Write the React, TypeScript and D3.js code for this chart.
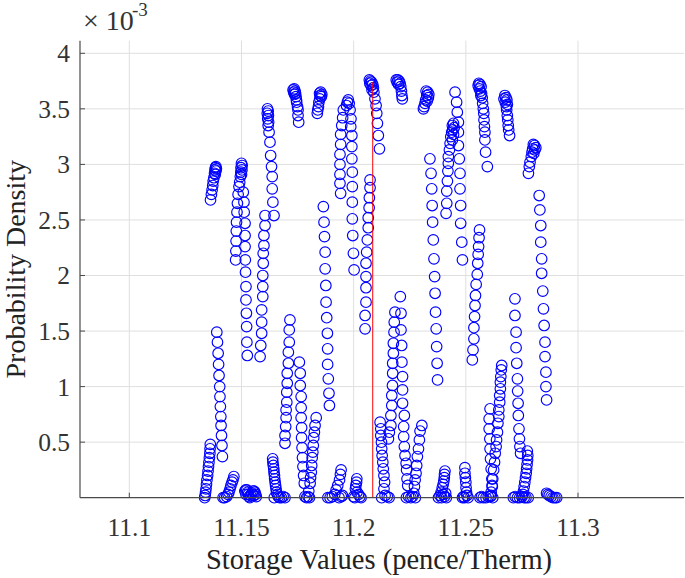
import React from "react";
import * as d3 from "d3";

type Pt = [number, number];

// x: storage value (pence/therm), y: probability density in units of 1e-3
const xTicks = [11.1, 11.15, 11.2, 11.25, 11.3];
const xTickLabels = ["11.1", "11.15", "11.2", "11.25", "11.3"];
const yTicks = [0.5, 1, 1.5, 2, 2.5, 3, 3.5, 4];
const yTickLabels = ["0.5", "1", "1.5", "2", "2.5", "3", "3.5", "4"];
const meanValue = 11.2085;
const meanDensity = 3.74;

const s01: Pt[] = [[11.1361,0.48],[11.1360,0.44],[11.1359,0.40],[11.1357,0.36],[11.1355,0.32],[11.1353,0.28],[11.1351,0.24],[11.1349,0.20],[11.1346,0.16],[11.1344,0.12],[11.1342,0.08],[11.1340,0.05],[11.1338,0.02],[11.1336,0.0]];
const s02: Pt[] = [[11.1386,2.98],[11.1384,2.97],[11.1388,2.96],[11.1382,2.95],[11.1386,2.94],[11.1380,2.92],[11.1383,2.91],[11.1377,2.88],[11.1374,2.85],[11.1372,2.81],[11.1369,2.77],[11.1366,2.73],[11.1362,2.68]];
const s03: Pt[] = [[11.1390,1.49],[11.1393,1.40],[11.1396,1.30],[11.1398,1.20],[11.1400,1.10],[11.1403,1.00],[11.1404,0.91],[11.1406,0.82],[11.1408,0.73],[11.1409,0.65],[11.1411,0.56],[11.1413,0.47],[11.1415,0.37]];
const s04: Pt[] = [[11.1466,0.19],[11.1462,0.16],[11.1458,0.14],[11.1453,0.11],[11.1449,0.08],[11.1444,0.05],[11.1440,0.03],[11.1434,0.01],[11.1425,0.0],[11.1418,0.0]];
const s05: Pt[] = [[11.1515,0.06],[11.1519,0.07],[11.1524,0.07],[11.1528,0.05],[11.1531,0.03],[11.1534,0.01],[11.1537,0.0],[11.1541,0.02],[11.1546,0.04],[11.1551,0.06],[11.1556,0.06],[11.1560,0.05],[11.1563,0.03],[11.1566,0.01],[11.1520,0.03],[11.1555,0.02]];
const s06: Pt[] = [[11.1500,3.01],[11.1503,2.99],[11.1498,2.97],[11.1502,2.95],[11.1497,2.93],[11.1500,2.91],[11.1495,2.89],[11.1492,2.84],[11.1489,2.80],[11.1485,2.73],[11.1482,2.65],[11.1480,2.57],[11.1478,2.48],[11.1477,2.40],[11.1476,2.31],[11.1475,2.22],[11.1474,2.14]];
const s07: Pt[] = [[11.1508,2.75],[11.1511,2.66],[11.1512,2.57],[11.1516,2.47],[11.1516,2.36],[11.1516,2.26],[11.1517,2.14],[11.1518,2.03],[11.1520,1.90],[11.1520,1.78],[11.1522,1.66],[11.1523,1.54],[11.1524,1.40],[11.1526,1.28]];
const s08: Pt[] = [[11.1616,3.50],[11.1619,3.48],[11.1615,3.46],[11.1620,3.44],[11.1617,3.41],[11.1621,3.38],[11.1619,3.35],[11.1623,3.29],[11.1627,3.20],[11.1630,3.08],[11.1634,2.98],[11.1637,2.89],[11.1637,2.78],[11.1640,2.66],[11.1645,2.54]];
const s09: Pt[] = [[11.1605,2.54],[11.1605,2.45],[11.1600,2.36],[11.1600,2.27],[11.1597,2.20],[11.1597,2.11],[11.1595,2.00],[11.1595,1.90],[11.1595,1.81],[11.1590,1.69],[11.1590,1.58],[11.1590,1.48],[11.1586,1.37],[11.1583,1.27]];
const s10: Pt[] = [[11.1639,0.35],[11.1640,0.32],[11.1642,0.29],[11.1644,0.26],[11.1645,0.23],[11.1647,0.20],[11.1648,0.17],[11.1650,0.14],[11.1652,0.11],[11.1654,0.08],[11.1656,0.05],[11.1660,0.03],[11.1664,0.01],[11.1670,0.0],[11.1646,0.0],[11.1678,0.0],[11.1686,0.01],[11.1694,0.0]];
const s11: Pt[] = [[11.1735,3.68],[11.1730,3.67],[11.1739,3.66],[11.1733,3.65],[11.1741,3.64],[11.1737,3.63],[11.1743,3.61],[11.1745,3.58],[11.1746,3.56],[11.1750,3.52],[11.1752,3.49],[11.1752,3.44],[11.1755,3.38]];
const s12: Pt[] = [[11.1716,1.60],[11.1713,1.51],[11.1713,1.40],[11.1709,1.31],[11.1709,1.21],[11.1704,1.12],[11.1704,1.03],[11.1702,0.95],[11.1702,0.86],[11.1699,0.79],[11.1699,0.72],[11.1697,0.64],[11.1694,0.56],[11.1694,0.49]];
const s13: Pt[] = [[11.1758,1.22],[11.1762,1.12],[11.1762,1.01],[11.1766,0.91],[11.1766,0.81],[11.1766,0.72],[11.1768,0.63],[11.1768,0.54],[11.1770,0.45],[11.1772,0.36],[11.1774,0.28],[11.1777,0.20],[11.1780,0.13]];
const s14: Pt[] = [[11.1833,0.72],[11.1828,0.65],[11.1825,0.59],[11.1822,0.54],[11.1820,0.47],[11.1818,0.41],[11.1815,0.36],[11.1813,0.29],[11.1811,0.23],[11.1808,0.18],[11.1806,0.13],[11.1800,0.06],[11.1797,0.01],[11.1790,0.0],[11.1783,0.01],[11.1803,0.0]];
const s15: Pt[] = [[11.1853,3.65],[11.1848,3.64],[11.1858,3.63],[11.1851,3.62],[11.1856,3.61],[11.1849,3.59],[11.1845,3.56],[11.1843,3.52],[11.1840,3.49],[11.1838,3.46]];
const s16: Pt[] = [[11.1865,2.62],[11.1868,2.48],[11.1870,2.35],[11.1873,2.21],[11.1873,2.06],[11.1876,1.91],[11.1877,1.76],[11.1880,1.62],[11.1883,1.48],[11.1884,1.34],[11.1884,1.20],[11.1887,1.07],[11.1890,0.94],[11.1892,0.83]];
const s17: Pt[] = [[11.1944,0.25],[11.1941,0.21],[11.1937,0.16],[11.1929,0.11],[11.1922,0.07],[11.1916,0.03],[11.1905,0.01],[11.1895,0.0],[11.1885,0.0],[11.1935,0.0],[11.1945,0.01],[11.1950,0.02]];
const s18: Pt[] = [[11.1954,3.49],[11.1951,3.42],[11.1947,3.35],[11.1942,3.27],[11.1942,3.18],[11.1939,3.09],[11.1939,3.00],[11.1939,2.91],[11.1939,2.83],[11.1942,2.74]];
const s19: Pt[] = [[11.1976,3.58],[11.1972,3.56],[11.1980,3.55],[11.1968,3.53],[11.1984,3.49],[11.1988,3.41],[11.1987,3.34],[11.1992,3.26],[11.1992,3.16],[11.1992,3.05],[11.1994,2.93],[11.1994,2.80],[11.1994,2.66],[11.1994,2.51],[11.1996,2.36],[11.1999,2.20],[11.2002,2.05]];
const s20: Pt[] = [[11.2014,0.17],[11.2013,0.14],[11.2010,0.11],[11.2008,0.08],[11.2015,0.05],[11.2022,0.03],[11.2028,0.01],[11.2033,0.0],[11.2005,0.0],[11.2000,0.01]];
const s21: Pt[] = [[11.2073,2.86],[11.2073,2.79],[11.2070,2.70],[11.2069,2.61],[11.2065,2.52],[11.2065,2.43],[11.2061,2.32],[11.2058,2.21],[11.2055,2.11],[11.2055,1.99],[11.2055,1.89],[11.2055,1.76],[11.2051,1.64],[11.2051,1.52]];
const s22: Pt[] = [[11.2070,3.76],[11.2075,3.75],[11.2080,3.74],[11.2072,3.73],[11.2085,3.72],[11.2078,3.71],[11.2088,3.69],[11.2082,3.67],[11.2090,3.65],[11.2095,3.59],[11.2100,3.53],[11.2103,3.46],[11.2106,3.37],[11.2110,3.26],[11.2115,3.14]];
const s23: Pt[] = [[11.2118,0.68],[11.2121,0.62],[11.2121,0.56],[11.2124,0.50],[11.2125,0.44],[11.2127,0.38],[11.2130,0.32],[11.2132,0.26],[11.2135,0.20],[11.2138,0.14],[11.2135,0.08],[11.2140,0.02],[11.2125,0.0],[11.2150,0.01],[11.2158,0.0]];
const s24: Pt[] = [[11.2190,3.76],[11.2197,3.76],[11.2203,3.75],[11.2194,3.74],[11.2207,3.73],[11.2200,3.72],[11.2210,3.70],[11.2213,3.66],[11.2215,3.62],[11.2217,3.59]];
const s25: Pt[] = [[11.2184,1.67],[11.2181,1.58],[11.2180,1.49],[11.2177,1.39],[11.2177,1.30],[11.2174,1.21],[11.2174,1.12],[11.2173,1.01],[11.2170,0.92],[11.2170,0.83],[11.2166,0.74],[11.2166,0.65],[11.2159,0.59],[11.2155,0.53]];
const s26: Pt[] = [[11.2208,1.81],[11.2211,1.66],[11.2211,1.51],[11.2214,1.37],[11.2215,1.22],[11.2218,1.09],[11.2218,0.97],[11.2218,0.85],[11.2226,0.74],[11.2223,0.64],[11.2223,0.55],[11.2226,0.46],[11.2229,0.38],[11.2234,0.31],[11.2236,0.25],[11.2238,0.17],[11.2241,0.11]];
const s27: Pt[] = [[11.2304,0.65],[11.2296,0.60],[11.2293,0.52],[11.2289,0.44],[11.2284,0.37],[11.2281,0.29],[11.2278,0.22],[11.2274,0.16],[11.2271,0.10],[11.2268,0.04],[11.2262,0.01],[11.2255,0.0],[11.2245,0.01],[11.2235,0.0],[11.2275,0.0]];
const s28: Pt[] = [[11.2323,3.66],[11.2330,3.65],[11.2335,3.63],[11.2326,3.62],[11.2333,3.60],[11.2321,3.58],[11.2328,3.57],[11.2318,3.55],[11.2314,3.52],[11.2311,3.50]];
const s29: Pt[] = [[11.2340,3.05],[11.2345,2.92],[11.2348,2.78],[11.2350,2.63],[11.2352,2.48],[11.2355,2.32],[11.2358,2.15],[11.2361,1.99],[11.2363,1.84],[11.2365,1.67],[11.2368,1.52],[11.2370,1.36],[11.2372,1.21],[11.2374,1.06]];
const s30: Pt[] = [[11.2407,0.24],[11.2405,0.21],[11.2404,0.18],[11.2402,0.15],[11.2399,0.12],[11.2395,0.09],[11.2390,0.05],[11.2385,0.02],[11.2378,0.0],[11.2392,0.0],[11.2405,0.01],[11.2413,0.0],[11.2400,0.03],[11.2410,0.04]];
const s31: Pt[] = [[11.2445,3.37],[11.2440,3.35],[11.2448,3.33],[11.2442,3.31],[11.2437,3.29],[11.2445,3.27],[11.2433,3.25],[11.2440,3.22],[11.2430,3.19],[11.2427,3.13],[11.2422,3.07],[11.2422,3.01],[11.2420,2.94],[11.2418,2.85],[11.2415,2.76],[11.2415,2.65],[11.2412,2.56]];
const s32: Pt[] = [[11.2452,3.65],[11.2459,3.56],[11.2462,3.47],[11.2467,3.38],[11.2467,3.29],[11.2467,3.17],[11.2471,3.05],[11.2474,2.92],[11.2474,2.78],[11.2477,2.63],[11.2477,2.47],[11.2482,2.30],[11.2485,2.14]];
const s33: Pt[] = [[11.2496,0.27],[11.2496,0.22],[11.2498,0.18],[11.2500,0.14],[11.2501,0.09],[11.2503,0.05],[11.2505,0.02],[11.2490,0.01],[11.2485,0.0],[11.2510,0.0],[11.2494,0.0]];
const s34: Pt[] = [[11.2558,3.73],[11.2563,3.72],[11.2555,3.71],[11.2568,3.70],[11.2560,3.68],[11.2565,3.66],[11.2570,3.64],[11.2567,3.62],[11.2573,3.60],[11.2575,3.55],[11.2578,3.50],[11.2580,3.46],[11.2581,3.40],[11.2583,3.34],[11.2585,3.29],[11.2585,3.22],[11.2588,3.11],[11.2596,2.98]];
const s35: Pt[] = [[11.2561,2.41],[11.2559,2.34],[11.2557,2.26],[11.2555,2.19],[11.2553,2.11],[11.2551,2.01],[11.2546,1.92],[11.2543,1.82],[11.2541,1.73],[11.2539,1.63],[11.2536,1.53],[11.2536,1.43],[11.2532,1.33],[11.2529,1.24]];
const s36: Pt[] = [[11.2563,0.0],[11.2570,0.01],[11.2578,0.0],[11.2590,0.0],[11.2600,0.01],[11.2620,0.0]];
const s37: Pt[] = [[11.2660,1.19],[11.2658,1.15],[11.2656,1.09],[11.2654,1.04],[11.2654,0.98],[11.2651,0.92],[11.2651,0.86],[11.2647,0.79],[11.2647,0.73],[11.2643,0.67],[11.2641,0.59],[11.2637,0.52],[11.2635,0.46],[11.2631,0.40],[11.2628,0.32],[11.2624,0.25],[11.2620,0.17],[11.2617,0.11],[11.2613,0.05],[11.2610,0.01]];
const s38: Pt[] = [[11.2608,0.80],[11.2604,0.71],[11.2604,0.62],[11.2607,0.53],[11.2608,0.44],[11.2610,0.35],[11.2613,0.26],[11.2616,0.17],[11.2618,0.10],[11.2613,0.02]];
const s39: Pt[] = [[11.2674,3.62],[11.2679,3.60],[11.2670,3.59],[11.2683,3.58],[11.2676,3.56],[11.2685,3.54],[11.2681,3.52],[11.2682,3.49],[11.2685,3.44],[11.2687,3.40],[11.2689,3.35],[11.2691,3.31],[11.2695,3.26]];
const s40: Pt[] = [[11.2719,1.79],[11.2719,1.64],[11.2724,1.49],[11.2724,1.35],[11.2727,1.21],[11.2730,1.07],[11.2731,0.96],[11.2733,0.85],[11.2734,0.74],[11.2737,0.62],[11.2739,0.53],[11.2741,0.46],[11.2744,0.40]];
const s41: Pt[] = [[11.2712,0.0],[11.2720,0.01],[11.2730,0.0],[11.2740,0.0],[11.2750,0.01],[11.2760,0.0]];
const s42: Pt[] = [[11.2774,0.42],[11.2776,0.38],[11.2775,0.34],[11.2773,0.30],[11.2771,0.26],[11.2769,0.22],[11.2766,0.18],[11.2763,0.14],[11.2760,0.10],[11.2757,0.06],[11.2754,0.03],[11.2750,0.01],[11.2768,0.0],[11.2778,0.0]];
const s43: Pt[] = [[11.2801,3.18],[11.2806,3.17],[11.2812,3.15],[11.2798,3.14],[11.2808,3.13],[11.2795,3.11],[11.2803,3.10],[11.2792,3.07],[11.2786,3.02],[11.2783,2.98],[11.2779,2.92]];
const s44: Pt[] = [[11.2827,2.72],[11.2830,2.59],[11.2834,2.45],[11.2834,2.30],[11.2838,2.15],[11.2838,2.02],[11.2843,1.86],[11.2846,1.70],[11.2849,1.55],[11.2853,1.40],[11.2853,1.27],[11.2857,1.13],[11.2857,1.00],[11.2860,0.88]];
const s45: Pt[] = [[11.2860,0.04],[11.2866,0.03],[11.2872,0.02],[11.2880,0.01],[11.2888,0.0],[11.2897,0.0],[11.2905,0.0]];

const strands: Pt[][] = [s01,s02,s03,s04,s05,s06,s07,s08,s09,s10,s11,s12,s13,s14,s15,s16,s17,s18,s19,s20,s21,s22,s23,s24,s25,s26,s27,s28,s29,s30,s31,s32,s33,s34,s35,s36,s37,s38,s39,s40,s41,s42,s43,s44,s45];

const W = 685;
const H = 578;
const LEFT = 80;
const RIGHT = 684;
const TOP = 40.7;
const BOTTOM = 497.7;
const FONT = "Liberation Serif, DejaVu Serif, serif";

export default function App() {
  const x = d3.scaleLinear().domain([11.1, 11.3]).range([129.3, 578]);
  const y = d3.scaleLinear().domain([0, 4]).range([BOTTOM, 53.3]);
  const pts = strands.flat();
  const axisColor = "#4a4a4a";
  const gridColor = "#dfdfdf";
  const tf = { fontFamily: FONT };
  return (
    <svg width={W} height={H} style={{ position: "absolute", left: 0, top: 0, background: "#fff" }}>
      <rect x={0} y={0} width={W} height={H} fill="#fff" />
      {xTicks.map((t) => (
        <line key={"gx" + t} x1={x(t)} x2={x(t)} y1={TOP} y2={BOTTOM} stroke={gridColor} strokeWidth={1} />
      ))}
      {yTicks.map((t) => (
        <line key={"gy" + t} x1={LEFT} x2={RIGHT} y1={y(t)} y2={y(t)} stroke={gridColor} strokeWidth={1} />
      ))}
      {pts.map((p, i) => (
        <circle key={i} cx={x(p[0])} cy={y(p[1])} r={5.3} fill="none" stroke="#0000ff" strokeWidth={1.15} />
      ))}
      <line x1={x(meanValue)} x2={x(meanValue)} y1={y(0)} y2={y(meanDensity)} stroke="#ff0000" strokeWidth={1} />
      <line x1={LEFT} x2={LEFT} y1={TOP} y2={BOTTOM} stroke={axisColor} strokeWidth={1.2} />
      <line x1={LEFT} x2={RIGHT} y1={BOTTOM} y2={BOTTOM} stroke={axisColor} strokeWidth={1.2} />
      {xTicks.map((t) => (
        <line key={"tx" + t} x1={x(t)} x2={x(t)} y1={BOTTOM} y2={BOTTOM - 5} stroke={axisColor} strokeWidth={1} />
      ))}
      {yTicks.map((t) => (
        <line key={"ty" + t} x1={LEFT} x2={LEFT + 5} y1={y(t)} y2={y(t)} stroke={axisColor} strokeWidth={1} />
      ))}
      {xTicks.map((t, i) => (
        <text key={"lx" + t} x={x(t)} y={536} textAnchor="middle" fontSize={25.5} fill="#333" style={tf}>{xTickLabels[i]}</text>
      ))}
      {yTicks.map((t, i) => (
        <text key={"ly" + t} x={70} y={y(t)} dy="0.35em" textAnchor="end" fontSize={25.5} fill="#333" style={tf}>{yTickLabels[i]}</text>
      ))}
      <text x={83} y={30} fontSize={28} fill="#333" style={tf}>× 10</text>
      <text x={132} y={16} fontSize={19} fill="#333" style={tf}>-3</text>
      <text x={(LEFT + 678) / 2} y={569} textAnchor="middle" fontSize={28.5} fill="#222" style={tf}>Storage Values (pence/Therm)</text>
      <text transform={`translate(25, ${(TOP + BOTTOM) / 2}) rotate(-90)`} textAnchor="middle" fontSize={28} fill="#222" style={tf}>Probability Density</text>
    </svg>
  );
}
